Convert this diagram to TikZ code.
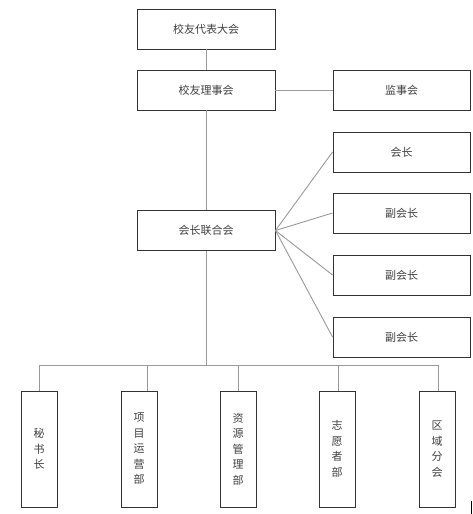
\documentclass[tikz,border=0pt]{standalone}
\usepackage{fontspec}
\newfontfamily\cjk{Noto Sans CJK SC}
\begin{document}
\begin{tikzpicture}[x=1pt,y=-1pt,
  box/.style={draw=black!80,line width=0.9pt,fill=white,inner sep=0pt,font=\cjk\fontsize{11}{15.5}\selectfont,text=black!75},
  hbox/.style={box,minimum width=138pt,minimum height=40pt},
  vbox/.style={box,minimum width=36pt,minimum height=116pt,align=center},
  link/.style={draw=black!40,line width=0.9pt}]
\useasboundingbox (0,0) rectangle (472,514);
\node[hbox] (dbdh) at (206,29) {校友代表大会};
\node[hbox] (lsh) at (206,90) {校友理事会};
\node[hbox,minimum width=137pt] (jsh) at (401.5,90) {监事会};
\node[hbox] (hzlh) at (206,230.5) {会长联合会};
\node[hbox,minimum width=137pt] (hz) at (401.5,152) {会长};
\node[hbox,minimum width=137pt] (fh1) at (401.5,213) {副会长};
\node[hbox,minimum width=137pt] (fh2) at (401.5,275) {副会长};
\node[hbox,minimum width=137pt] (fh3) at (401.5,337) {副会长};
\coordinate (bus) at (206,365);
\node[vbox] (msz) at (39,449) {秘\\书\\长};
\node[vbox] (xm) at (139,449) {项\\目\\运\\营\\部};
\node[vbox] (zy) at (238,449) {资\\源\\管\\理\\部};
\node[vbox] (zyz) at (337,449) {志\\愿\\者\\部};
\node[vbox] (qy) at (437,449) {区\\域\\分\\会};
\draw[link] (dbdh) -- (lsh);
\draw[link] (lsh) -- (jsh);
\draw[link] (lsh) -- (hzlh);
\draw[link] (hzlh.east) -- (hz.west);
\draw[link] (hzlh.east) -- (fh1.west);
\draw[link] (hzlh.east) -- (fh2.west);
\draw[link] (hzlh.east) -- (fh3.west);
\draw[link] (hzlh) -- (bus);
\draw[link] (msz.north) -- (39,365) -- (438,365) -- (438,391);
\draw[link] (147,365) -- (147,391);
\draw[link] (238,365) -- (zy.north);
\draw[link] (338,365) -- (338,391);
\draw[black,line width=1.4pt] (471.3,501) -- (471.3,514);
\end{tikzpicture}
\end{document}
